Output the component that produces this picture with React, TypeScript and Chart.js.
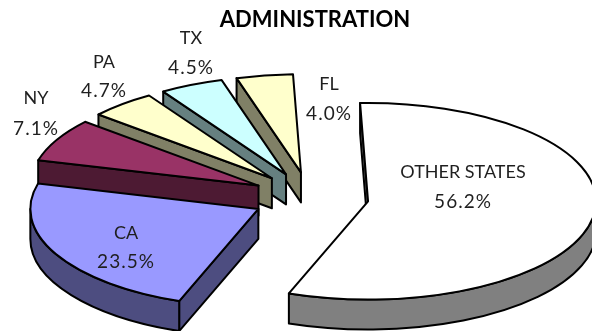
import React, { useEffect, useRef } from "react";
import { Chart, registerables } from "chart.js";

Chart.register(...registerables);

// Share of administration spending by state, in percent.
const states = ["OTHER STATES", "CA", "NY", "PA", "TX", "FL"];
const shares = [56.2, 23.5, 7.1, 4.7, 4.5, 4.0];
const topColors = ["#FFFFFF", "#9999FF", "#993366", "#FFFFCC", "#CCFFFF", "#FFFFCC"];
const wallColors = ["#808080", "#4D4D80", "#4D1A33", "#808066", "#668080", "#808066"];

// Centres of the two-line slice captions: [x, first line y, second line y].
const captionAnchors = [
  [463, 172, 202],
  [126, 233, 262],
  [36, 98, 129],
  [104, 62, 91],
  [191, 38, 68],
  [329, 84, 114],
];

// Tilted-pie projection.
const PIE_X = 310.3;
const PIE_Y = 197.3;
const RADIUS = 228;
const SQUASH = 0.431;
const DEPTH = 30;
const EXPLODE = 58.5; // how far each slice moves out along its middle angle
const EDGE = "#000000";

const tiltedPie = {
  id: "tiltedPie",
  beforeDatasetDraw(chart: any, args: any) {
    const { ctx } = chart;
    const arcs = args.meta.data;
    // Painter's order: the slices at the back go first.
    for (let i = arcs.length - 1; i >= 0; i--) {
      const arc = arcs[i];
      const { startAngle: a0, endAngle: a1, outerRadius: rx } = arc;
      const mid = (a0 + a1) / 2;
      const cx = PIE_X + Math.cos(mid) * EXPLODE;
      const cy = PIE_Y + Math.sin(mid) * EXPLODE * SQUASH;
      const ry = rx * SQUASH;
      const px = (a: number) => cx + Math.cos(a) * rx;
      const py = (a: number) => cy + Math.sin(a) * ry;

      ctx.save();
      ctx.lineWidth = 2;
      ctx.lineJoin = "round";
      ctx.strokeStyle = EDGE;
      ctx.fillStyle = wallColors[i];

      const sideWall = (a: number) => {
        ctx.beginPath();
        ctx.moveTo(cx, cy);
        ctx.lineTo(px(a), py(a));
        ctx.lineTo(px(a), py(a) + DEPTH);
        ctx.lineTo(cx, cy + DEPTH);
        ctx.closePath();
        ctx.fill();
        ctx.stroke();
      };
      if (Math.cos(a0) < 0) sideWall(a0);
      if (Math.cos(a1) > 0) sideWall(a1);

      // Outer rim, only where it faces the viewer.
      const rimFrom = Math.max(a0, 0);
      const rimTo = Math.min(a1, Math.PI);
      if (rimTo > rimFrom) {
        ctx.beginPath();
        ctx.ellipse(cx, cy, rx, ry, 0, rimFrom, rimTo);
        ctx.ellipse(cx, cy + DEPTH, rx, ry, 0, rimTo, rimFrom, true);
        ctx.closePath();
        ctx.fill();
        ctx.stroke();
      }

      // Top face: the library's arc under the projection, then its outline.
      ctx.save();
      ctx.translate(cx, cy);
      ctx.scale(1, SQUASH);
      ctx.translate(-arc.x, -arc.y);
      arc.draw(ctx);
      ctx.restore();

      ctx.beginPath();
      ctx.moveTo(cx, cy);
      ctx.ellipse(cx, cy, rx, ry, 0, a0, a1);
      ctx.closePath();
      ctx.stroke();
      ctx.restore();
    }
    return false;
  },
  afterDraw(chart: any) {
    const { ctx } = chart;
    ctx.save();
    ctx.fillStyle = "#1f1f1f";
    ctx.textAlign = "center";
    ctx.textBaseline = "middle";
    states.forEach((name, i) => {
      const [x, y1, y2] = captionAnchors[i];
      ctx.font = "18px Lato";
      ctx.letterSpacing = "0px";
      ctx.fillText(name, x, y1);
      ctx.font = "19px Lato";
      ctx.letterSpacing = "1px";
      ctx.fillText(`${shares[i].toFixed(1)}%`, x, y2);
    });
    ctx.restore();
  },
};

export default function App() {
  const canvasRef = useRef<HTMLCanvasElement>(null);

  useEffect(() => {
    const chart = new Chart(canvasRef.current as HTMLCanvasElement, {
      type: "pie",
      data: {
        labels: states,
        datasets: [
          {
            data: shares,
            backgroundColor: topColors,
            borderWidth: 0,
            offset: 0,
            radius: RADIUS,
            clip: false,
          } as any,
        ],
      },
      options: {
        responsive: false,
        animation: false,
        rotation: -2,
        layout: { padding: { left: 38 } },
        plugins: {
          legend: { display: false },
          tooltip: { enabled: false },
          title: {
            display: true,
            text: "ADMINISTRATION",
            color: "#000000",
            font: { family: "Lato", size: 22, weight: "bold" },
            padding: { top: 7, bottom: 6 },
          },
        },
      },
      plugins: [tiltedPie],
    });
    return () => chart.destroy();
  }, []);

  return (
    <div style={{ position: "absolute", left: 0, top: 0, width: 592, height: 331, background: "#fff" }}>
      <canvas ref={canvasRef} width={592} height={331} style={{ display: "block" }} />
    </div>
  );
}
